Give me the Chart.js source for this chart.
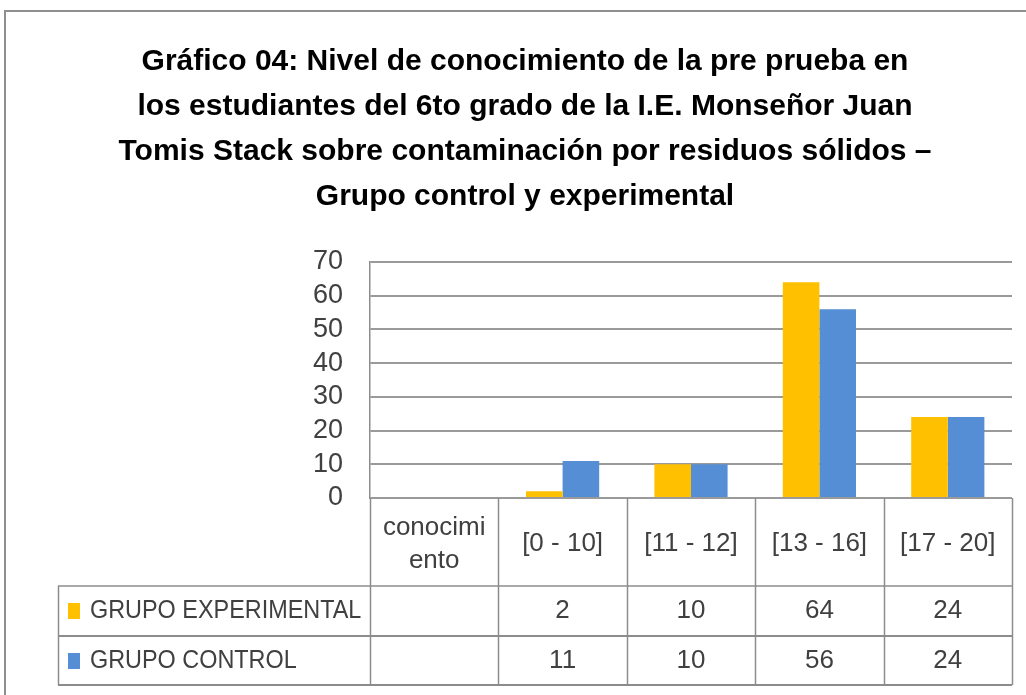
<!DOCTYPE html>
<html>
<head>
<meta charset="utf-8">
<script src="https://cdn.jsdelivr.net/npm/chart.js@4/dist/chart.umd.min.js"></script>
<style>
  html, body { margin: 0; padding: 0; background: #fff; }
  #wrap { position: relative; width: 1026px; height: 695px; overflow: hidden; }
  #frame { position: absolute; left: 4px; top: 10px; width: 1040px; height: 700px; border: 2px solid #8f8f8f; box-sizing: border-box; }
  canvas { position: absolute; left: 0; top: 0; }
</style>
</head>
<body>
<div id="wrap">
  <div id="frame"></div>
  <canvas id="c" width="1026" height="695"></canvas>
</div>
<script>
const titleLines = [
  'Gráfico 04: Nivel de conocimiento de la pre prueba en',
  'los estudiantes del 6to grado de la I.E. Monseñor Juan',
  'Tomis Stack sobre contaminación por residuos sólidos –',
  'Grupo control y experimental'
];
const categories = [['conocimi', 'ento'], '[0 - 10]', '[11 - 12]', '[13 - 16]', '[17 - 20]'];
const experimentalLabel = 'GRUPO EXPERIMENTAL';
const controlLabel = 'GRUPO CONTROL';
const experimental = [null, 2, 10, 64, 24];
const control = [null, 11, 10, 56, 24];
const yTicks = [0, 10, 20, 30, 40, 50, 60, 70];

const FONT = '"Liberation Sans", Arial, sans-serif';
const YELLOW = '#FFC000';
const BLUE = '#558ED5';
const LINE = '#8c8c8c';
const TEXT = '#404040';

const tablePlugin = {
  id: 'dataTable',
  afterDraw(chart) {
    const ctx = chart.ctx;
    const area = chart.chartArea;
    const xs = chart.scales.x;
    const n = categories.length;
    const cw = (area.right - area.left) / n;
    const headTop = area.bottom, headBot = 586, row1Bot = 636, row2Bot = 685;
    const tableLeft = 58;
    ctx.save();
    ctx.strokeStyle = LINE;
    ctx.lineWidth = 1.5;
    for (let i = 0; i <= n; i++) {
      const x = Math.round(area.left + i * cw) + 0.5;
      ctx.beginPath(); ctx.moveTo(x, headTop); ctx.lineTo(x, row2Bot); ctx.stroke();
    }
    ctx.beginPath(); ctx.moveTo(tableLeft + 0.5, headBot); ctx.lineTo(tableLeft + 0.5, row2Bot); ctx.stroke();
    [headBot, row1Bot, row2Bot].forEach((y, k) => {
      ctx.lineWidth = k === 0 ? 1.5 : 2.2;
      ctx.beginPath(); ctx.moveTo(tableLeft, y); ctx.lineTo(area.right, y); ctx.stroke();
    });
    ctx.fillStyle = TEXT;
    ctx.font = '26px ' + FONT;
    ctx.textAlign = 'center';
    ctx.textBaseline = 'middle';
    categories.forEach((lab, i) => {
      const cx = xs.getPixelForValue(i);
      if (Array.isArray(lab)) {
        ctx.fillText(lab[0], cx, 528);
        ctx.fillText(lab[1], cx, 561);
      } else {
        ctx.fillText(lab, cx, 544);
      }
    });
    const rows = [
      { label: experimentalLabel, color: YELLOW, data: experimental, y: 611 },
      { label: controlLabel, color: BLUE, data: control, y: 661 }
    ];
    rows.forEach(r => {
      ctx.fillStyle = r.color;
      ctx.fillRect(68, r.y - 8, 12, 16);
      ctx.fillStyle = TEXT;
      ctx.save();
      ctx.translate(90, r.y);
      ctx.scale(0.9, 1);
      ctx.textAlign = 'left';
      ctx.fillText(r.label, 0, 0);
      ctx.restore();
      ctx.textAlign = 'center';
      r.data.forEach((v, i) => {
        if (v !== null) ctx.fillText(String(v), xs.getPixelForValue(i), r.y);
      });
    });
    ctx.restore();
  }
};

new Chart(document.getElementById('c'), {
  type: 'bar',
  data: {
    labels: categories,
    datasets: [
      { label: experimentalLabel, data: experimental, backgroundColor: YELLOW },
      { label: controlLabel, data: control, backgroundColor: BLUE }
    ]
  },
  options: {
    responsive: false,
    animation: false,
    devicePixelRatio: 1,
    categoryPercentage: 0.57,
    barPercentage: 1.0,
    layout: { padding: { left: 38, right: 14, top: 0, bottom: 197 } },
    plugins: {
      legend: { display: false },
      tooltip: { enabled: false },
      title: {
        display: true,
        text: titleLines,
        color: '#000',
        font: { family: FONT, size: 30, weight: 'bold', lineHeight: 45 / 30 },
        padding: { top: 39.5, bottom: 42.5 }
      }
    },
    scales: {
      x: { display: false },
      y: {
        min: 0, max: 70,
        afterFit(s) { s.width = 332; },
        afterBuildTicks(s) { s.ticks = yTicks.map(v => ({ value: v })); },
        ticks: { color: TEXT, font: { family: FONT, size: 27 }, padding: 27, autoSkip: false },
        grid: { color: '#9a9a9a', lineWidth: 2, drawTicks: false },
        border: { display: true, color: LINE, width: 1.5 }
      }
    }
  },
  plugins: [tablePlugin]
});
</script>
</body>
</html>
